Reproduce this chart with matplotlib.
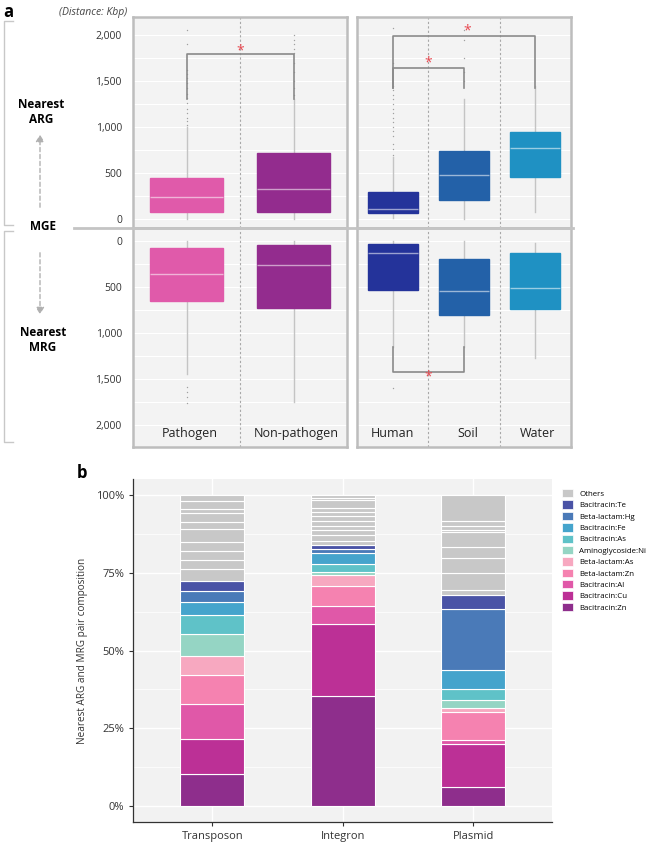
import matplotlib.pyplot as plt
from matplotlib.lines import Line2D
from matplotlib.patches import FancyArrowPatch, Patch
from matplotlib.ticker import FuncFormatter, MultipleLocator

plt.rcParams['font.family'] = ['Open Sans', 'DejaVu Sans']

# ---- panel a: box summaries (Kbp) ----
host_groups = ['Pathogen', 'Non-pathogen']
env_groups = ['Human', 'Soil', 'Water']

# q1, median, q3, whisker low, whisker high
host_arg = [(76, 236, 442, 0, 1000), (76, 330, 714, 0, 1300)]
env_arg = [(68, 105, 297, 10, 675), (203, 478, 742, 0, 1300), (460, 775, 942, 80, 1450)]
host_mrg = [(83, 366, 657, 0, 1450), (47, 265, 737, 0, 1755)]
env_mrg = [(36, 131, 538, 0, 1157), (200, 545, 810, 0, 1157), (131, 516, 745, 25, 1270)]

host_arg_out = [[1020, 1060, 1100, 1150, 1200, 1260, 1310, 1360, 1420, 1480, 1530, 1580, 1620, 1900, 2050],
                [1350, 1420, 1500, 1600, 1700, 1800, 1850, 1900, 1950, 2000]]
env_arg_out = [[700, 760, 820, 900, 960, 1000, 1050, 1100, 1150, 1200, 1250, 1300, 1350, 1400, 1450, 1700, 2080],
               [1500, 1600, 1750, 1950, 2050],
               []]
host_mrg_out = [[1590, 1640, 1700, 1760], []]
env_mrg_out = [[1600], [], []]

host_colors = ['#e05aaa', '#932c8e']
env_colors = ['#24339a', '#2361a8', '#1f91c3']

# ---- panel b: composition (%) ----
mge_types = ['Transposon', 'Integron', 'Plasmid']
pair_names = ['Bacitracin:Zn', 'Bacitracin:Cu', 'Bacitracin:Al', 'Beta-lactam:Zn', 'Beta-lactam:As',
              'Aminoglycoside:Ni', 'Bacitracin:As', 'Bacitracin:Fe', 'Beta-lactam:Hg', 'Bacitracin:Te']
transposon = [10.2, 11.5, 11.2, 9.1, 6.4, 7.0, 5.9, 4.3, 3.5, 3.4]
integron = [35.3, 23.3, 5.6, 6.4, 3.7, 1.1, 2.5, 3.6, 1.2, 1.3]
plasmid = [6.2, 13.8, 1.4, 8.8, 1.3, 2.6, 3.6, 6.0, 19.7, 4.6]
others_transposon = [3.7, 2.9, 2.8, 3.1, 4.1, 2.1, 3.0, 1.4, 2.6, 1.8]
others_integron = [1.3, 1.9, 1.6, 1.3, 1.4, 1.6, 1.4, 1.3, 2.5, 0.7, 1.0]
others_plasmid = [1.4, 5.6, 4.6, 3.7, 4.7, 0.9, 1.1, 1.6, 8.4]
pair_colors = ['#8e2e8c', '#bc3096', '#e058a8', '#f582b0', '#f7a8c0',
               '#95d5c4', '#5fc2c8', '#45a4cc', '#4a7ab8', '#4a53a6']
others_color = '#c8c8c8'

W, H = 658, 842
fig = plt.figure(figsize=(W / 100, H / 100), dpi=100)


def fx(px):
    return px / W


def fy(py):
    return 1 - py / H


def box_stats(summary, fliers):
    q1, med, q3, lo, hi = summary
    return {'q1': q1, 'med': med, 'q3': q3, 'whislo': lo, 'whishi': hi, 'fliers': fliers}


def draw_boxes(ax, summaries, outs, colors):
    stats = [box_stats(s, o) for s, o in zip(summaries, outs)]
    pos = list(range(len(stats)))
    b = ax.bxp(stats, positions=pos, widths=0.68 if len(pos) == 2 else 0.7, patch_artist=True,
               showcaps=False,
               whiskerprops=dict(color='#c4c4c4', lw=1),
               medianprops=dict(color='white', lw=1, alpha=0.55),
               flierprops=dict(marker='.', ms=2, mfc='#a0a0a0', mec='none'))
    for patch, c in zip(b['boxes'], colors):
        patch.set_facecolor(c)
        patch.set_edgecolor(c)
        patch.set_zorder(3)
    for m in b['medians']:
        m.set_zorder(4)


def style_panel(ax, n, ylim, show_labels):
    ax.set_facecolor('#f3f3f3')
    ax.set_xlim(-0.5, n - 0.5)
    ax.set_ylim(*ylim)
    ax.set_xticks([])
    ax.yaxis.set_major_locator(MultipleLocator(500))
    ax.yaxis.set_minor_locator(MultipleLocator(250))
    ax.grid(True, which='both', axis='y', color='white', lw=0.8)
    ax.set_axisbelow(True)
    for s in ax.spines.values():
        s.set_color('#bdbdbd')
        s.set_linewidth(1.8)
    for k in range(n - 1):
        ax.axvline(k + 0.5, color='#a8a8a8', ls=(0, (2, 2)), lw=0.8, zorder=1)
    ax.tick_params(axis='y', length=0, pad=8, labelsize=7.5, colors='#333333',
                   labelleft=show_labels, which='both')
    ax.yaxis.set_major_formatter(FuncFormatter(lambda v, p: f'{int(v):,}'))


def bracket(ax, x0, x1, y_leg, y_top, star_x, star_y):
    ax.plot([x0, x0, x1, x1], [y_leg, y_top, y_top, y_leg], color='#8a8a8a', lw=1.2, zorder=5)
    ax.text(star_x, star_y, '*', color='#e8474f', ha='center', va='center', fontsize=10, zorder=6)


top_lim = (-98, 2196)
bot_lim = (2240, -136)
ax_tl = fig.add_axes([fx(133), fy(228), fx(214), (228 - 17) / H])
ax_tr = fig.add_axes([fx(357), fy(228), fx(214), (228 - 17) / H])
ax_bl = fig.add_axes([fx(133), fy(447), fx(214), (447 - 228) / H])
ax_br = fig.add_axes([fx(357), fy(447), fx(214), (447 - 228) / H])

draw_boxes(ax_tl, host_arg, host_arg_out, host_colors)
draw_boxes(ax_tr, env_arg, env_arg_out, env_colors)
draw_boxes(ax_bl, host_mrg, host_mrg_out, host_colors)
draw_boxes(ax_br, env_mrg, env_mrg_out, env_colors)

style_panel(ax_tl, 2, top_lim, True)
style_panel(ax_tr, 3, top_lim, False)
style_panel(ax_bl, 2, bot_lim, True)
style_panel(ax_br, 3, bot_lim, False)

bracket(ax_tl, 0, 1, 1300, 1790, 0.5, 1830)
bracket(ax_tr, 0, 2, 1420, 1990, 1.05, 2040)
bracket(ax_tr, 0, 1, 1420, 1645, 0.5, 1700)
bracket(ax_br, 0, 1, 1157, 1430, 0.5, 1480)

for i, name in enumerate(host_groups):
    ax_bl.text(i + 0.03, 2090, name, ha='center', va='center', fontsize=9, color='#222222')
for i, name in enumerate(env_groups):
    ax_br.text([0, 1.05, 2.03][i], 2090, name, ha='center', va='center', fontsize=9, color='#222222')

# left annotations
fig.text(fx(3), fy(3), 'a', fontsize=12, fontweight='bold', va='top', ha='left')
fig.text(fx(93), fy(12), '(Distance: Kbp)', fontsize=7.5, style='italic', color='#444444',
         ha='center', va='center')
fig.text(fx(41), fy(112), 'Nearest\nARG', fontsize=8.5, fontweight='bold', ha='center', va='center',
         linespacing=1.2)
fig.text(fx(43), fy(227), 'MGE', fontsize=8.5, fontweight='bold', ha='center', va='center')
fig.text(fx(43), fy(340), 'Nearest\nMRG', fontsize=8.5, fontweight='bold', ha='center', va='center',
         linespacing=1.2)
fig.add_artist(FancyArrowPatch((fx(40), fy(210)), (fx(40), fy(132)), transform=fig.transFigure,
                               arrowstyle='-|>,head_length=4,head_width=2.5', color='#b0b0b0',
                               ls=(0, (3, 2)), lw=1))
fig.add_artist(FancyArrowPatch((fx(40), fy(250)), (fx(40), fy(317)), transform=fig.transFigure,
                               arrowstyle='-|>,head_length=4,head_width=2.5', color='#b0b0b0',
                               ls=(0, (3, 2)), lw=1))
fig.add_artist(Line2D([fx(74), fx(573)], [fy(228), fy(228)], color='#c4c4c4', lw=2))
for t, b_ in [(21, 225), (231, 442)]:
    fig.add_artist(Line2D([fx(13), fx(4), fx(4), fx(13)], [fy(t), fy(t), fy(b_), fy(b_)],
                          color='#c8c8c8', lw=1))

# ---- panel b ----
fig.text(fx(77), fy(473), 'b', fontsize=12, fontweight='bold', va='center', ha='left')
axb = fig.add_axes([fx(133.3), 20.3 / H, fx(418.4), (821.7 - 479.4) / H])
axb.set_facecolor('#f2f2f2')
xpos = [1, 2, 3]
bar_w = 0.49
for x, vals, others in zip(xpos, [transposon, integron, plasmid],
                           [others_transposon, others_integron, others_plasmid]):
    bottom = 0
    for v, c in zip(vals + others, pair_colors + [others_color] * len(others)):
        axb.bar(x, v / 100, bottom=bottom, width=bar_w, color=c, edgecolor='white', lw=0.8, zorder=3)
        bottom += v / 100

axb.set_xlim(0.395, 3.6)
axb.set_ylim(-0.05, 1.05)
axb.set_xticks(xpos)
axb.set_xticklabels(mge_types)
axb.set_yticks([0, 0.25, 0.5, 0.75, 1.0])
axb.set_yticklabels(['0%', '25%', '50%', '75%', '100%'])
axb.yaxis.set_minor_locator(MultipleLocator(0.125))
axb.grid(True, which='major', color='white', lw=1)
axb.grid(True, which='minor', axis='y', color='white', lw=0.5)
axb.set_axisbelow(True)
axb.tick_params(which='major', length=3, width=0.8, color='#333333', labelsize=8, labelcolor='#333333')
axb.tick_params(which='minor', length=0)
for s in ['top', 'right']:
    axb.spines[s].set_visible(False)
for s in ['left', 'bottom']:
    axb.spines[s].set_color('#333333')
    axb.spines[s].set_linewidth(0.9)
axb.set_ylabel('Nearest ARG and MRG pair composition', fontsize=7.2, color='#333333', labelpad=6)

legend_labels = ['Others'] + pair_names[::-1]
legend_colors = [others_color] + pair_colors[::-1]
handles = [Patch(facecolor=c, edgecolor='white', lw=0.5) for c in legend_colors]
fig.legend(handles, legend_labels, loc='upper left', bbox_to_anchor=(fx(562), fy(489)),
           frameon=False, fontsize=5.7, handlelength=1.35, handleheight=1.25, labelspacing=0.32,
           handletextpad=0.8, borderpad=0, borderaxespad=0)

fig.savefig('out.png', dpi=100)
